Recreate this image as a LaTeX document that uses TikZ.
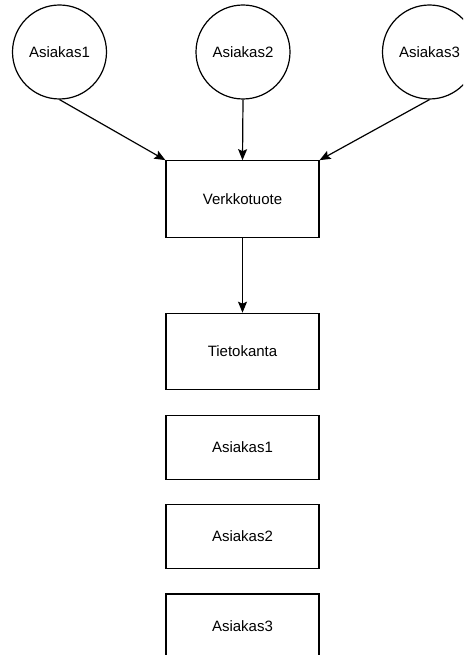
\documentclass[tikz,border=0pt]{standalone}
\usepackage{fontspec}
\setmainfont{Liberation Sans}
\usetikzlibrary{arrows.meta}
\begin{document}
\begin{tikzpicture}[x=1pt,y=-1pt,
  line width=1.2pt,
  client/.style={draw=black, circle, minimum size=94pt, inner sep=0pt, font=\fontsize{15}{18}\selectfont},
  box/.style={draw=black, rectangle, minimum width=153pt, inner sep=0pt, font=\fontsize{15}{18}\selectfont},
  link/.style={-{Stealth[length=11pt,width=9pt,inset=2pt]}}]
  \useasboundingbox (0,0) rectangle (463,655);
  \clip (0,0) rectangle (463,655);
  % clients
  \node[client] (c1) at (59.5,52) {Asiakas1};
  \node[client] (c2) at (243,52) {Asiakas2};
  \node[client] (c3) at (429.5,52) {Asiakas3};
  % service and storage
  \node[box, minimum height=76.5pt] (web) at (242.5,199) {Verkkotuote};
  \node[box, minimum height=76pt] (db) at (242.5,351.3) {Tietokanta};
  \node[box, minimum height=63.6pt] (r1) at (242.5,447.5) {Asiakas1};
  \node[box, minimum height=63.6pt] (r2) at (242.5,536.5) {Asiakas2};
  \node[box, minimum height=63.6pt] (r3) at (242.5,625.8) {Asiakas3};
  % connectors
  \draw[link] (c1.south) -- (web.north west);
  \draw[link] (c2.south) -- (web.north);
  \draw[link] (c3.south) -- (web.north east);
  \draw[link] (web.south) -- (db.north);
\end{tikzpicture}
\end{document}
